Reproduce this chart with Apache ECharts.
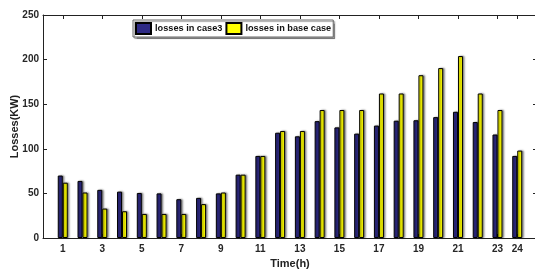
<!DOCTYPE html>
<html>
<head>
<meta charset="utf-8">
<script src="https://cdn.jsdelivr.net/npm/echarts@6/dist/echarts.min.js"></script>
<style>
  html, body { margin: 0; padding: 0; background: #fff; }
  #chart { width: 535px; height: 269px; }
</style>
</head>
<body>
<div id="chart"></div>
<script>
// 时刻 (h)
const hours = [1, 2, 3, 4, 5, 6, 7, 8, 9, 10, 11, 12, 13, 14, 15, 16, 17, 18, 19, 20, 21, 22, 23, 24]
// 损耗数据 (KW)
const lossesCase3 = [70, 64, 54, 52, 50.5, 50, 43.5, 45, 50, 71, 92, 118, 114, 131, 124, 117, 126, 131.5, 132, 135.5, 141.5, 130, 116, 92]
const lossesBase = [62, 51, 33, 30, 27, 27, 27, 38, 51, 71, 92, 120, 120, 143.5, 143.5, 143.5, 162, 162, 182.5, 190.5, 204, 162, 143.5, 98]
// 刻度
const xTicks = [1, 3, 5, 7, 9, 11, 13, 15, 17, 19, 21, 23, 24]

const font = 'Liberation Sans, Arial, sans-serif'
const chart = echarts.init(document.getElementById('chart'))

const barShadow = {
  borderColor: '#000',
  borderWidth: 1,
  shadowColor: 'rgba(0,0,0,0.45)',
  shadowBlur: 2,
  shadowOffsetX: 1.5,
  shadowOffsetY: 0
}

const axisLine = { show: true, onZero: false, lineStyle: { color: '#222', width: 1 } }

const option = {
  animation: false,
  textStyle: { fontFamily: font },
  grid: { left: 43, top: 15, width: 494, height: 223, show: false, containLabel: false, outerBoundsMode: 'none' },
  legend: {
    left: 133,
    top: 20,
    padding: [2, 2, 2, 2],
    itemGap: 3,
    itemWidth: 15,
    itemHeight: 11,
    icon: 'rect',
    backgroundColor: '#fff',
    borderColor: '#666',
    borderWidth: 1,
    shadowColor: 'rgba(0,0,0,0.35)',
    shadowBlur: 1,
    shadowOffsetX: 1.5,
    shadowOffsetY: 1.5,
    textStyle: { fontSize: 9.2, fontWeight: 'bold', color: '#111', fontFamily: font, padding: [0, 0, 0, -1] },
    data: ['losses in case3', 'losses in base case']
  },
  xAxis: [
    {
      type: 'value',
      min: 0,
      max: 25,
      name: 'Time(h)',
      nameLocation: 'middle',
      nameGap: 20,
      nameMoveOverlap: false,
      nameTextStyle: { fontSize: 11, fontWeight: 'bold', color: '#222', fontFamily: font },
      axisLine: axisLine,
      axisTick: { show: true, inside: true, length: 4, customValues: xTicks, lineStyle: { color: '#222' } },
      axisLabel: { customValues: xTicks, fontSize: 10, fontWeight: 'bold', color: '#262626', margin: 6, fontFamily: font },
      splitLine: { show: false }
    },
    {
      type: 'value',
      position: 'top',
      min: 0,
      max: 25,
      axisLine: axisLine,
      axisTick: { show: true, inside: true, length: 4, customValues: xTicks, lineStyle: { color: '#222' } },
      axisLabel: { show: false },
      splitLine: { show: false }
    }
  ],
  yAxis: [
    {
      type: 'value',
      min: 0,
      max: 250,
      interval: 50,
      name: 'Losses(KW)',
      nameLocation: 'middle',
      nameGap: 23,
      nameMoveOverlap: false,
      nameTextStyle: { fontSize: 11, fontWeight: 'bold', color: '#222', fontFamily: font },
      axisLine: axisLine,
      axisTick: { show: true, inside: true, length: 4, lineStyle: { color: '#222' } },
      axisLabel: { fontSize: 10, fontWeight: 'bold', color: '#262626', margin: 4, fontFamily: font },
      splitLine: { show: false }
    },
    {
      type: 'value',
      position: 'right',
      min: 0,
      max: 250,
      interval: 50,
      axisLine: axisLine,
      axisTick: { show: true, inside: true, length: 4, lineStyle: { color: '#222' } },
      axisLabel: { show: false },
      splitLine: { show: false }
    }
  ],
  series: [
    {
      name: 'losses in case3',
      type: 'bar',
      barWidth: 5,
      barGap: '0%',
      data: hours.map((h, i) => [h, lossesCase3[i]]),
      itemStyle: Object.assign({ color: '#2e2a85' }, barShadow)
    },
    {
      name: 'losses in base case',
      type: 'bar',
      barWidth: 5,
      barGap: '0%',
      data: hours.map((h, i) => [h, lossesBase[i]]),
      itemStyle: Object.assign({ color: '#ffff00' }, barShadow)
    }
  ]
}

chart.setOption(option)
</script>
</body>
</html>
